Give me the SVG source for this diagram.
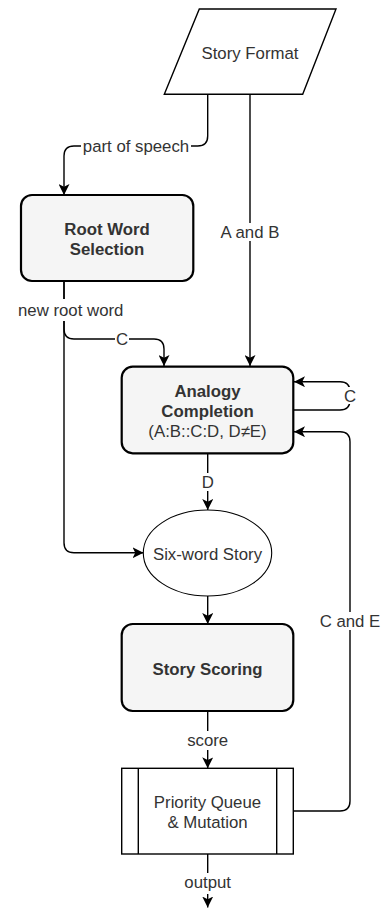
<svg xmlns="http://www.w3.org/2000/svg" width="383" height="910" viewBox="0 0 383 910">
<style>
text{font-family:"Liberation Sans",Arial,Helvetica,sans-serif;font-size:16.8px;fill:#333;text-anchor:middle}
.b{font-weight:bold}
.node{fill:#fff;stroke:#000;stroke-width:1.4}
.proc{fill:#f5f5f5;stroke:#000;stroke-width:2.2}
.edge{fill:none;stroke:#000;stroke-width:1.4}
.lbg{fill:#fff}
</style>
<defs>
<marker id="arr" markerUnits="userSpaceOnUse" markerWidth="11" markerHeight="11" viewBox="0 0 10 10" refX="10" refY="5" orient="auto">
<path d="M0,0 L10,5 L0,10 L2.5,5 Z" fill="#000"/>
</marker>
</defs>
<g id="connectors">
<path class="edge" d="M207.7,94.3 V136 Q207.7,146 197.7,146 H74 Q64,146 64,156 V195" marker-end="url(#arr)"/>
<path class="edge" d="M250,94.3 V366" marker-end="url(#arr)"/>
<path class="edge" d="M64,281 V329 Q64,339 74,339 H154 Q164,339 164,349 V366" marker-end="url(#arr)"/>
<path class="edge" d="M64,281 V542.7 Q64,552.7 74,552.7 H143.5" marker-end="url(#arr)"/>
<path class="edge" d="M293.3,410 H340 Q350,410 350,400 V391.7 Q350,381.7 340,381.7 H294" marker-end="url(#arr)"/>
<path class="edge" d="M293.3,811 H340 Q350,811 350,801 V441.7 Q350,431.7 340,431.7 H294" marker-end="url(#arr)"/>
<path class="edge" d="M207.7,453.3 V510" marker-end="url(#arr)"/>
<path class="edge" d="M207.7,596 V624" marker-end="url(#arr)"/>
<path class="edge" d="M207.7,711 V768.3" marker-end="url(#arr)"/>
<path class="edge" d="M207.7,854 V907.5" marker-end="url(#arr)"/>
<rect class="lbg" x="81" y="137" width="110" height="18"/>
<text x="136" y="151.5">part of speech</text>
<rect class="lbg" x="220" y="223" width="60" height="18"/>
<text x="250" y="238">A and B</text>
<rect class="lbg" x="14" y="299" width="112" height="22"/>
<text x="70.7" y="316">new root word</text>
<rect class="lbg" x="115" y="330" width="14" height="18"/>
<text x="122" y="345">C</text>
<rect class="lbg" x="343" y="387" width="14" height="17"/>
<text x="350" y="401.5">C</text>
<rect class="lbg" x="315" y="612" width="70" height="18"/>
<text x="350" y="627">C and E</text>
<rect class="lbg" x="199" y="473" width="17" height="18"/>
<text x="207.7" y="488">D</text>
<rect class="lbg" x="184" y="731" width="48" height="19"/>
<text x="207.7" y="746">score</text>
<rect class="lbg" x="180" y="873" width="56" height="21"/>
<text x="207.7" y="888">output</text>
</g>
<g id="story-format">
<path class="node" d="M199.3,9 H336 L302.7,94.3 H164.3 Z"/>
<text x="250" y="58.5">Story Format</text>
</g>
<g id="root-word-selection">
<rect class="proc" x="21" y="195" width="172.3" height="86" rx="11"/>
<text class="b" x="107" y="235">Root Word</text>
<text class="b" x="107" y="255">Selection</text>
</g>
<g id="analogy-completion">
<rect class="proc" x="121.7" y="366.7" width="171.6" height="86.6" rx="11"/>
<text class="b" x="207.5" y="397">Analogy</text>
<text class="b" x="207.5" y="417">Completion</text>
<text x="207.5" y="437">(A:B::C:D, D≠E)</text>
</g>
<g id="six-word-story">
<ellipse class="node" cx="207.5" cy="553" rx="64.2" ry="43" style="stroke-width:1.1"/>
<text x="207.5" y="560">Six-word Story</text>
</g>
<g id="story-scoring">
<rect class="proc" x="121.7" y="624" width="171.6" height="87" rx="11"/>
<text class="b" x="207.5" y="675">Story Scoring</text>
</g>
<g id="priority-queue">
<rect class="node" x="121.7" y="768.3" width="171.6" height="85.7"/>
<line class="node" x1="138.3" y1="768.3" x2="138.3" y2="854"/>
<line class="node" x1="276.7" y1="768.3" x2="276.7" y2="854"/>
<text x="207.5" y="808">Priority Queue</text>
<text x="207.5" y="828">&amp; Mutation</text>
</g>
</svg>
